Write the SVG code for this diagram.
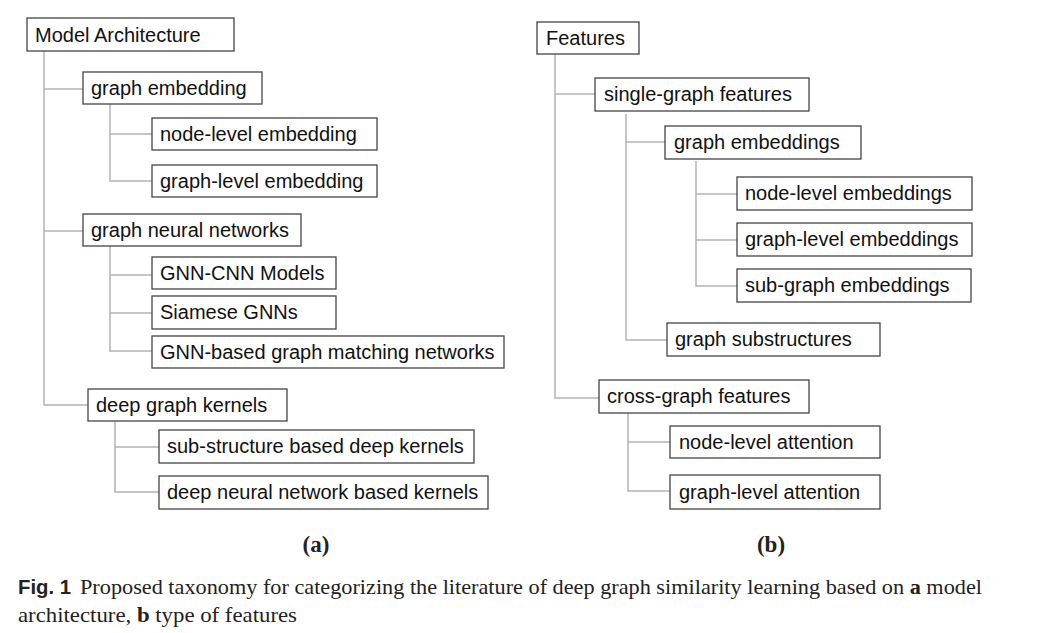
<svg xmlns="http://www.w3.org/2000/svg" width="1038" height="633" viewBox="0 0 1038 633">
<style>
.box{fill:#fff;stroke:#444;stroke-width:1.3}
.lbl{font-family:"Liberation Sans",Arial,sans-serif;font-size:20px;fill:#111}
.con{fill:none;stroke:#b4b4b4;stroke-width:1.5}
.cap{font-family:"Liberation Serif","Times New Roman",serif;font-size:21px;fill:#222}
.pl{font-family:"Liberation Serif","Times New Roman",serif;font-size:23px;font-weight:bold;fill:#222}
</style>
<rect width="1038" height="633" fill="#fff"/>
<g id="connectors">
<path class="con" d="M44 51V405H88M44 89H83M44 231H83"/>
<path class="con" d="M110 104V181H152M110 134H152"/>
<path class="con" d="M110 246V351H152M110 275H152M110 313H152"/>
<path class="con" d="M115 421V492H159M115 447H159"/>
<path class="con" d="M555 54V398H599M555 94H595"/>
<path class="con" d="M626 114V340H667M626 142H665"/>
<path class="con" d="M696 161V286H737M696 194H737M696 240H737"/>
<path class="con" d="M628 413V491H670M628 442H670"/>
</g>
<g id="n-model-architecture"><rect class="box" x="27" y="18" width="207" height="33"/><text class="lbl" x="35" y="42">Model Architecture</text></g>
<g id="n-graph-embedding"><rect class="box" x="83" y="72" width="179" height="32"/><text class="lbl" x="91" y="95">graph embedding</text></g>
<g id="n-node-level-embedding"><rect class="box" x="152" y="118" width="225" height="32"/><text class="lbl" x="160" y="141">node-level embedding</text></g>
<g id="n-graph-level-embedding"><rect class="box" x="152" y="165" width="225" height="32"/><text class="lbl" x="160" y="188">graph-level embedding</text></g>
<g id="n-graph-neural-networks"><rect class="box" x="83" y="214" width="218" height="32"/><text class="lbl" x="91" y="237">graph neural networks</text></g>
<g id="n-gnn-cnn"><rect class="box" x="152" y="257" width="184" height="32"/><text class="lbl" x="160" y="280">GNN-CNN Models</text></g>
<g id="n-siamese"><rect class="box" x="152" y="296" width="184" height="33"/><text class="lbl" x="160" y="319">Siamese GNNs</text></g>
<g id="n-gnn-matching"><rect class="box" x="152" y="336" width="352" height="32"/><text class="lbl" x="160" y="359">GNN-based graph matching networks</text></g>
<g id="n-deep-graph-kernels"><rect class="box" x="88" y="389" width="199" height="32"/><text class="lbl" x="96" y="412">deep graph kernels</text></g>
<g id="n-substructure-kernels"><rect class="box" x="159" y="430" width="315" height="33"/><text class="lbl" x="167" y="453">sub-structure based deep kernels</text></g>
<g id="n-dnn-kernels"><rect class="box" x="159" y="476" width="329" height="33"/><text class="lbl" x="167" y="499">deep neural network based kernels</text></g>

<g id="n-features"><rect class="box" x="537" y="22" width="102" height="32"/><text class="lbl" x="546" y="45">Features</text></g>
<g id="n-single-graph"><rect class="box" x="595" y="78" width="214" height="33"/><text class="lbl" x="604" y="101">single-graph features</text></g>
<g id="n-graph-embeddings"><rect class="box" x="665" y="126" width="196" height="33"/><text class="lbl" x="674" y="149">graph embeddings</text></g>
<g id="n-node-level-embeddings"><rect class="box" x="737" y="177" width="235" height="33"/><text class="lbl" x="745" y="200">node-level embeddings</text></g>
<g id="n-graph-level-embeddings"><rect class="box" x="737" y="223" width="235" height="33"/><text class="lbl" x="745" y="246">graph-level embeddings</text></g>
<g id="n-sub-graph-embeddings"><rect class="box" x="737" y="269" width="234" height="33"/><text class="lbl" x="745" y="292">sub-graph embeddings</text></g>
<g id="n-graph-substructures"><rect class="box" x="667" y="323" width="213" height="33"/><text class="lbl" x="675" y="346">graph substructures</text></g>
<g id="n-cross-graph"><rect class="box" x="599" y="380" width="210" height="33"/><text class="lbl" x="607" y="403">cross-graph features</text></g>
<g id="n-node-level-attention"><rect class="box" x="670" y="426" width="210" height="32"/><text class="lbl" x="679" y="449">node-level attention</text></g>
<g id="n-graph-level-attention"><rect class="box" x="670" y="475" width="210" height="34"/><text class="lbl" x="679" y="499">graph-level attention</text></g>

<text class="pl" x="316" y="552" text-anchor="middle">(a)</text>
<text class="pl" x="771" y="552" text-anchor="middle">(b)</text>
<text x="18" y="594" font-family="Liberation Sans,Arial,sans-serif" font-size="20" font-weight="bold" fill="#222" textLength="53" lengthAdjust="spacingAndGlyphs">Fig. 1</text>
<text class="cap" x="80" y="594" textLength="902" lengthAdjust="spacingAndGlyphs">Proposed taxonomy for categorizing the literature of deep graph similarity learning based on <tspan font-weight="bold">a</tspan> model</text>
<text class="cap" x="18" y="622" textLength="279" lengthAdjust="spacingAndGlyphs">architecture, <tspan font-weight="bold">b</tspan> type of features</text>
</svg>
